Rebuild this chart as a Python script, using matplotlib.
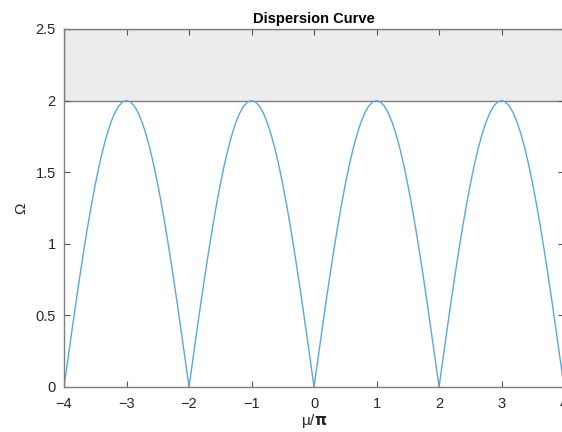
import numpy as np
import matplotlib
matplotlib.use("Agg")
import matplotlib.pyplot as plt

# mu/pi from -4 to 4, step 1/16
mu_pi = np.linspace(-4, 4, 129)
# one arch of the curve between two zeros, repeated 4 times
arch = [0.0, 0.196, 0.39, 0.581, 0.765, 0.943, 1.111, 1.269, 1.414, 1.546, 1.663, 1.764, 1.848, 1.914, 1.962, 1.99,
        2.0, 1.99, 1.962, 1.914, 1.848, 1.764, 1.663, 1.546, 1.414, 1.269, 1.111, 0.943, 0.765, 0.581, 0.39, 0.196]
omega = arch * 4 + [0.0]
band_low = 2.0
band_high = 2.5
xticks = [-4, -3, -2, -1, 0, 1, 2, 3, 4]
yticks = [0, 0.5, 1, 1.5, 2, 2.5]

plt.rcParams['font.family'] = ['Liberation Sans', 'DejaVu Sans']
fig = plt.figure(figsize=(5.62, 4.32), dpi=100)
ax = fig.add_axes([0.1139, 0.1042, 0.8897, 0.8287])

ax.fill_between([-4, 4], band_low, band_high, facecolor='#ececec', edgecolor='#7f7f7f', linewidth=1.0, zorder=1)
ax.plot(mu_pi, omega, color='#5aa8dc', linewidth=1.0, zorder=2)

ax.set_xlim(-4, 4)
ax.set_ylim(0, 2.5)
ax.set_xticks(xticks)
ax.set_xticklabels(['\u22124', '\u22123', '\u22122', '\u22121', '0', '1', '2', '3', '4'])
ax.set_yticks(yticks)
ax.set_yticklabels(['0', '0.5', '1', '1.5', '2', '2.5'])
ax.tick_params(direction='in', length=4, color='#555555', labelcolor='#262626', labelsize=10.5,
               top=True, right=True, width=0.8)
ax.tick_params(axis='x', pad=7)
ax.tick_params(axis='y', pad=6)
for s in ax.spines.values():
    s.set_color('#808080')
    s.set_linewidth(1.0)

ax.set_title('Dispersion Curve', fontsize=10.5, fontweight='bold', pad=4)
ax.set_xlabel(r'μ/$\mathbf{\pi}$', fontsize=11, color='#262626', labelpad=1)
ax.set_ylabel('Ω', fontsize=11, color='#262626')
ax.yaxis.set_label_coords(-0.072, 0.5)

fig.savefig('out.png', dpi=100)
